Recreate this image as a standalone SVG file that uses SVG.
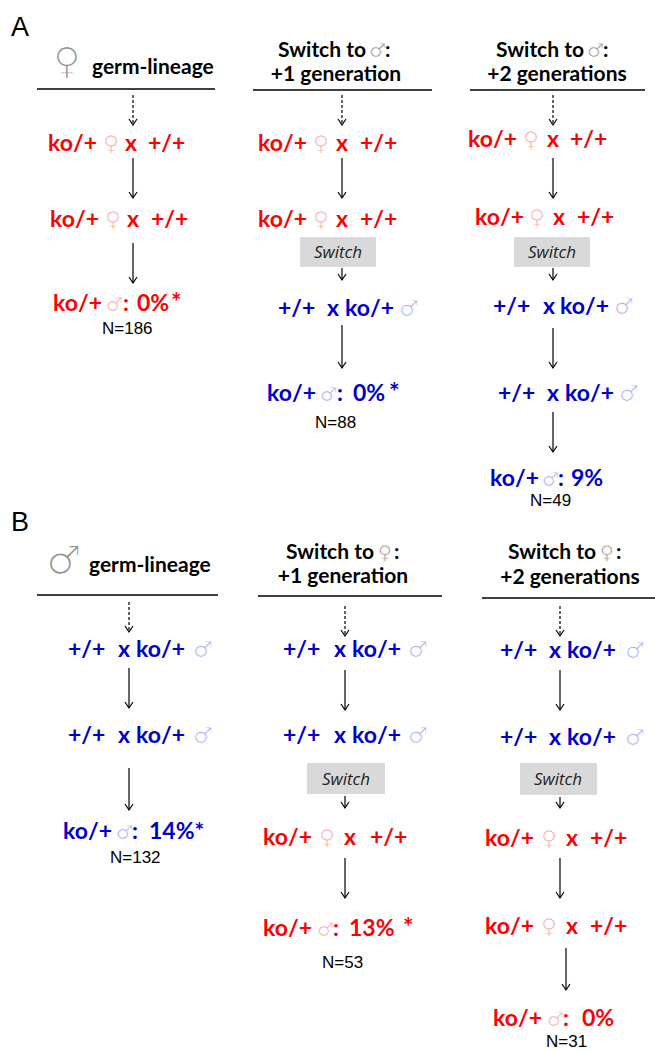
<svg xmlns="http://www.w3.org/2000/svg" width="655" height="1051" viewBox="0 0 655 1051">
<style>
.pl{font-family:"Liberation Sans",Arial,sans-serif;font-size:27px;fill:#000}
.hd{font-family:Lato,"Liberation Sans",sans-serif;font-weight:bold;font-size:21px;fill:#000;text-anchor:middle}
.hl{font-family:Lato,"Liberation Sans",sans-serif;font-weight:bold;font-size:21px;fill:#000}
.row{font-family:Lato,"Liberation Sans",sans-serif;font-weight:bold;font-size:23px}
.r{fill:#ff0000}.b{fill:#0000cc}
.sym{font-family:"DejaVu Sans",sans-serif;font-weight:normal;font-size:22px;stroke:#fff;stroke-width:0.9}
.rs{font-size:19px;stroke-width:0.7}
.ast{font-size:25px}
.hsym{font-family:"DejaVu Sans",sans-serif;font-weight:normal;stroke:#fff;stroke-width:1.6}
.isym{font-family:"DejaVu Sans",sans-serif;font-weight:normal;font-size:19px;stroke:#fff;stroke-width:0.6}
.fr{fill:#f39a9a}.mb{fill:#9c9cf0}.hs{fill:#8f8f8f}
.n{font-family:"Liberation Sans",Arial,sans-serif;font-size:17px;fill:#000}
.rule{stroke:#000;stroke-width:1.3}
.ar{stroke:#000;stroke-width:1.2;fill:none;marker-end:url(#ah)}
.da{stroke-dasharray:3,2}
.sw{fill:#d9d9d9}
.swt{font-family:"Open Sans","Liberation Sans",sans-serif;font-style:italic;font-size:17px;fill:#222;text-anchor:middle}
</style>
<defs>
<marker id="ah" viewBox="-8 -5 10 10" markerWidth="10" markerHeight="10" refX="0" refY="0" orient="auto" markerUnits="userSpaceOnUse">
<path d="M-6,-4 L0,0 L-6,4" fill="none" stroke="#000" stroke-width="1.2"/>
</marker>
</defs>
<rect width="655" height="1051" fill="#fff"/>

<text class="pl" x="11" y="36">A</text>
<text class="pl" x="11" y="531">B</text>

<!-- headers A -->
<g id="hA1">
<text x="67" y="74" class="hsym hs" font-size="38" text-anchor="middle">♀</text>
<text class="hl" x="92" y="74">germ-lineage</text>
<line class="rule" x1="37" y1="89" x2="215" y2="89"/>
</g>
<g id="hA2">
<text class="hl" x="278" y="57">Switch to</text>
<text class="isym hs" x="369" y="57">♂</text>
<text class="hl" x="385" y="57">:</text>
<text class="hd" x="336" y="81">+1 generation</text>
<line class="rule" x1="253" y1="90" x2="432" y2="90"/>
</g>
<g id="hA3">
<text class="hl" x="496" y="57">Switch to</text>
<text class="isym hs" x="587" y="57">♂</text>
<text class="hl" x="603" y="57">:</text>
<text class="hd" x="557" y="81">+2 generations</text>
<line class="rule" x1="470" y1="90" x2="645" y2="90"/>
</g>

<!-- headers B -->
<g id="hB1">
<text x="64" y="574" class="hsym hs" font-size="40" text-anchor="middle">♂</text>
<text class="hl" x="89" y="572">germ-lineage</text>
<line class="rule" x1="37" y1="595" x2="218" y2="595"/>
</g>
<g id="hB2">
<text class="hl" x="286" y="559">Switch to</text>
<text class="isym hs" x="378" y="559">♀</text>
<text class="hl" x="394" y="559">:</text>
<text class="hd" x="343" y="583">+1 generation</text>
<line class="rule" x1="258" y1="596" x2="442" y2="596"/>
</g>
<g id="hB3">
<text class="hl" x="508" y="559">Switch to</text>
<text class="isym hs" x="600" y="559">♀</text>
<text class="hl" x="616" y="559">:</text>
<text class="hd" x="570" y="584">+2 generations</text>
<line class="rule" x1="482" y1="598" x2="655" y2="598"/>
</g>

<!-- Panel A column 1 -->
<g id="a1r1"><text class="row r" y="151"><tspan x="48">ko/+</tspan><tspan class="sym fr" x="103">♀</tspan><tspan x="125">x</tspan><tspan x="148">+/+</tspan></text></g>
<g id="a1r2"><text class="row r" y="227"><tspan x="50">ko/+</tspan><tspan class="sym fr" x="105">♀</tspan><tspan x="127">x</tspan><tspan x="151">+/+</tspan></text></g>
<g id="a1res"><text class="row r" y="311"><tspan x="53">ko/+</tspan><tspan class="sym rs fr" x="106">♂</tspan><tspan x="123">:</tspan><tspan x="137">0%</tspan><tspan class="ast" x="171">*</tspan></text><text class="n" x="102" y="334">N=186</text></g>

<!-- Panel A column 2 -->
<g id="a2r1"><text class="row r" y="151"><tspan x="258">ko/+</tspan><tspan class="sym fr" x="313">♀</tspan><tspan x="336">x</tspan><tspan x="360">+/+</tspan></text></g>
<g id="a2r2"><text class="row r" y="227"><tspan x="258">ko/+</tspan><tspan class="sym fr" x="313">♀</tspan><tspan x="336">x</tspan><tspan x="360">+/+</tspan></text></g>
<g id="a2sw"><rect class="sw" x="300" y="237" width="76" height="30"/><text class="swt" x="338" y="258">Switch</text></g>
<g id="a2r3"><text class="row b" y="316"><tspan x="278">+/+</tspan><tspan x="327">x</tspan><tspan x="345">ko/+</tspan><tspan class="sym mb" x="399">♂</tspan></text></g>
<g id="a2res"><text class="row b" y="401"><tspan x="267">ko/+</tspan><tspan class="sym rs mb" x="320">♂</tspan><tspan x="337">:</tspan><tspan x="353">0%</tspan><tspan class="ast" x="389">*</tspan></text><text class="n" x="315" y="428">N=88</text></g>

<!-- Panel A column 3 -->
<g id="a3r1"><text class="row r" y="147"><tspan x="468">ko/+</tspan><tspan class="sym fr" x="523">♀</tspan><tspan x="547">x</tspan><tspan x="570">+/+</tspan></text></g>
<g id="a3r2"><text class="row r" y="225"><tspan x="475">ko/+</tspan><tspan class="sym fr" x="529">♀</tspan><tspan x="553">x</tspan><tspan x="577">+/+</tspan></text></g>
<g id="a3sw"><rect class="sw" x="514" y="237" width="76" height="30"/><text class="swt" x="552" y="258">Switch</text></g>
<g id="a3r3"><text class="row b" y="314"><tspan x="493">+/+</tspan><tspan x="543">x</tspan><tspan x="560">ko/+</tspan><tspan class="sym mb" x="614">♂</tspan></text></g>
<g id="a3r4"><text class="row b" y="401"><tspan x="498">+/+</tspan><tspan x="547">x</tspan><tspan x="565">ko/+</tspan><tspan class="sym mb" x="619">♂</tspan></text></g>
<g id="a3res"><text class="row b" y="486"><tspan x="490">ko/+</tspan><tspan class="sym rs mb" x="542">♂</tspan><tspan x="558">:</tspan><tspan x="571">9%</tspan></text><text class="n" x="530" y="506">N=49</text></g>

<!-- Panel B column 1 -->
<g id="b1r1"><text class="row b" y="657"><tspan x="68">+/+</tspan><tspan x="118">x</tspan><tspan x="136">ko/+</tspan><tspan class="sym mb" x="193">♂</tspan></text></g>
<g id="b1r2"><text class="row b" y="743"><tspan x="68">+/+</tspan><tspan x="118">x</tspan><tspan x="136">ko/+</tspan><tspan class="sym mb" x="193">♂</tspan></text></g>
<g id="b1res"><text class="row b" y="839"><tspan x="63">ko/+</tspan><tspan class="sym rs mb" x="116">♂</tspan><tspan x="132">:</tspan><tspan x="149">14%*</tspan></text><text class="n" x="110" y="863">N=132</text></g>

<!-- Panel B column 2 -->
<g id="b2r1"><text class="row b" y="657"><tspan x="283">+/+</tspan><tspan x="334">x</tspan><tspan x="352">ko/+</tspan><tspan class="sym mb" x="408">♂</tspan></text></g>
<g id="b2r2"><text class="row b" y="743"><tspan x="283">+/+</tspan><tspan x="334">x</tspan><tspan x="352">ko/+</tspan><tspan class="sym mb" x="408">♂</tspan></text></g>
<g id="b2sw"><rect class="sw" x="307" y="763" width="78" height="31"/><text class="swt" x="346" y="785">Switch</text></g>
<g id="b2r3"><text class="row r" y="845"><tspan x="263">ko/+</tspan><tspan class="sym fr" x="319">♀</tspan><tspan x="344">x</tspan><tspan x="370">+/+</tspan></text></g>
<g id="b2res"><text class="row r" y="936"><tspan x="263">ko/+</tspan><tspan class="sym rs fr" x="317">♂</tspan><tspan x="333">:</tspan><tspan x="349">13%</tspan><tspan class="ast" x="403">*</tspan></text><text class="n" x="322" y="968">N=53</text></g>

<!-- Panel B column 3 -->
<g id="b3r1"><text class="row b" y="658"><tspan x="500">+/+</tspan><tspan x="549">x</tspan><tspan x="567">ko/+</tspan><tspan class="sym mb" x="625">♂</tspan></text></g>
<g id="b3r2"><text class="row b" y="745"><tspan x="500">+/+</tspan><tspan x="549">x</tspan><tspan x="567">ko/+</tspan><tspan class="sym mb" x="625">♂</tspan></text></g>
<g id="b3sw"><rect class="sw" x="520" y="763" width="77" height="32"/><text class="swt" x="558" y="785">Switch</text></g>
<g id="b3r3"><text class="row r" y="846"><tspan x="485">ko/+</tspan><tspan class="sym fr" x="541">♀</tspan><tspan x="566">x</tspan><tspan x="590">+/+</tspan></text></g>
<g id="b3r4"><text class="row r" y="934"><tspan x="485">ko/+</tspan><tspan class="sym fr" x="541">♀</tspan><tspan x="566">x</tspan><tspan x="590">+/+</tspan></text></g>
<g id="b3res"><text class="row r" y="1026"><tspan x="493">ko/+</tspan><tspan class="sym rs fr" x="547">♂</tspan><tspan x="563">:</tspan><tspan x="582">0%</tspan></text><text class="n" x="546" y="1047">N=31</text></g>

<!-- connectors -->
<g id="connectors">
<line class="ar da" x1="133" y1="95" x2="133" y2="125"/>
<line class="ar" x1="133" y1="158" x2="133" y2="198"/>
<line class="ar" x1="133" y1="243" x2="133" y2="283"/>

<line class="ar da" x1="342" y1="95" x2="342" y2="125"/>
<line class="ar" x1="342" y1="158" x2="342" y2="198"/>
<line class="ar" x1="342" y1="268" x2="342" y2="280"/>
<line class="ar" x1="342" y1="325" x2="342" y2="368"/>

<line class="ar da" x1="553" y1="95" x2="553" y2="125"/>
<line class="ar" x1="553" y1="158" x2="553" y2="198"/>
<line class="ar" x1="553" y1="268" x2="553" y2="280"/>
<line class="ar" x1="553" y1="328" x2="553" y2="368"/>
<line class="ar" x1="553" y1="412" x2="553" y2="452"/>

<line class="ar da" x1="129" y1="602" x2="129" y2="632"/>
<line class="ar" x1="129" y1="668" x2="129" y2="708"/>
<line class="ar" x1="129" y1="768" x2="129" y2="810"/>

<line class="ar da" x1="345" y1="606" x2="345" y2="636"/>
<line class="ar" x1="345" y1="670" x2="345" y2="710"/>
<line class="ar" x1="345" y1="796" x2="345" y2="808"/>
<line class="ar" x1="345" y1="858" x2="345" y2="898"/>

<line class="ar da" x1="560" y1="606" x2="560" y2="636"/>
<line class="ar" x1="560" y1="670" x2="560" y2="710"/>
<line class="ar" x1="560" y1="797" x2="560" y2="808"/>
<line class="ar" x1="560" y1="858" x2="560" y2="898"/>
<line class="ar" x1="566" y1="948" x2="566" y2="990"/>
</g>
</svg>
